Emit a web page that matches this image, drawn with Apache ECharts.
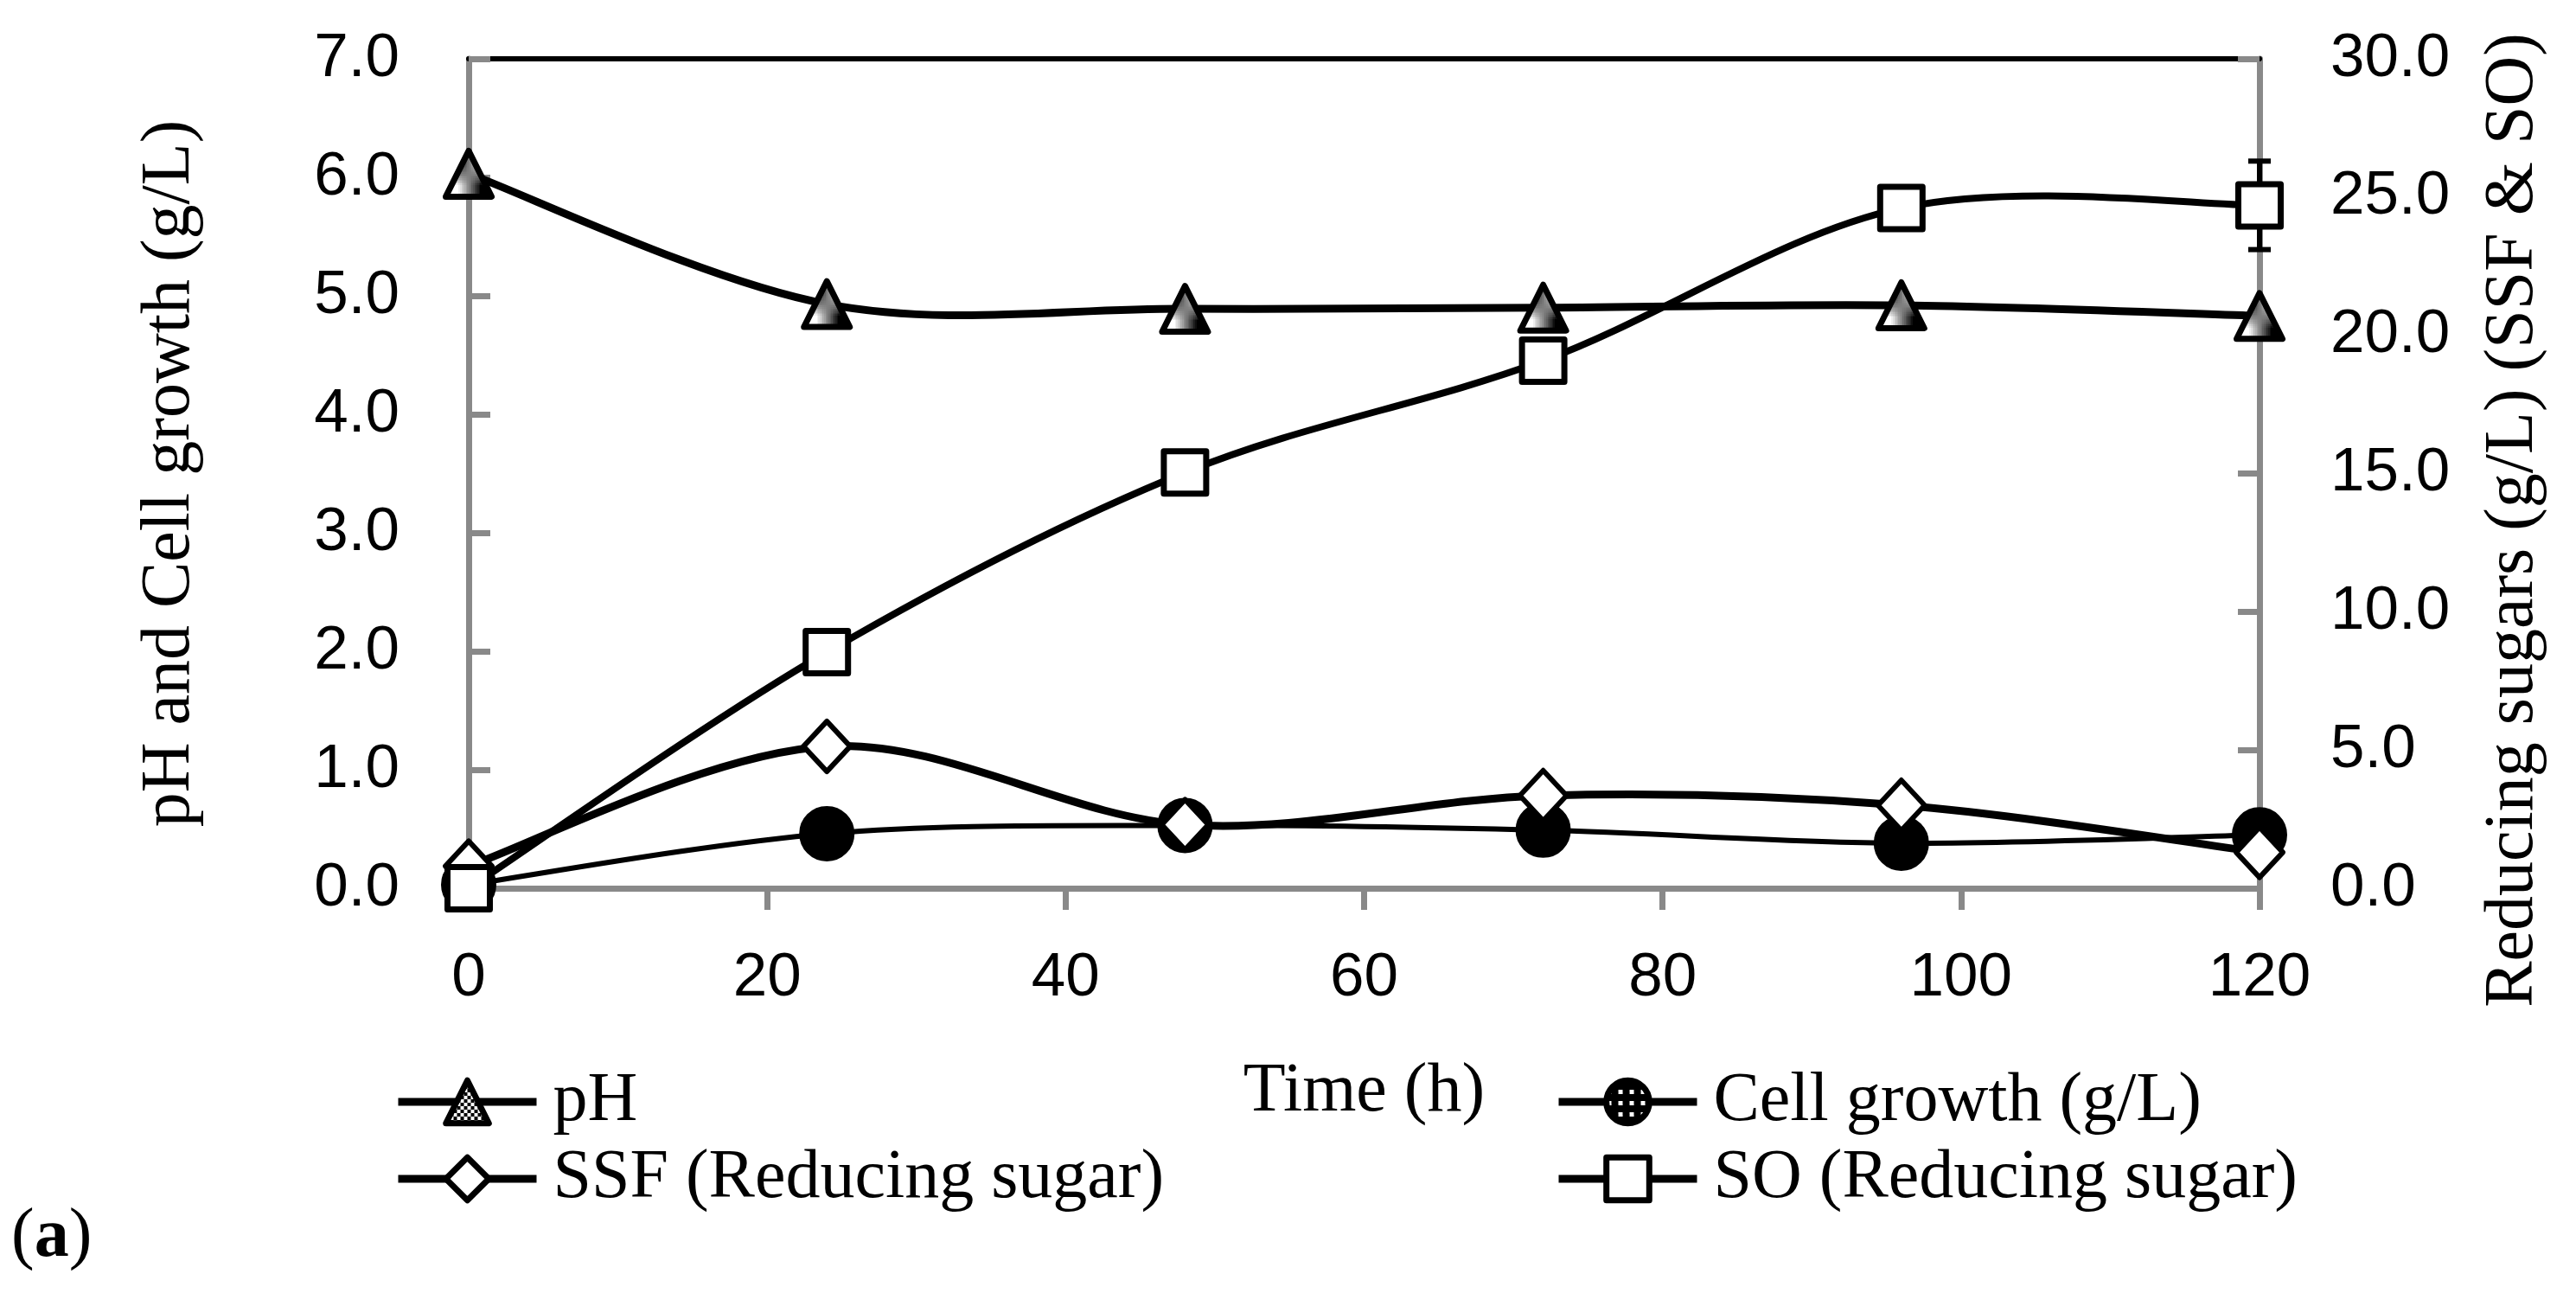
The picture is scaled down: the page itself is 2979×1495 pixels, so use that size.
<!DOCTYPE html>
<html>
<head>
<meta charset="utf-8">
<script src="https://cdn.jsdelivr.net/npm/echarts@6/dist/echarts.min.js"></script>
<style>
html,body{margin:0;padding:0;background:#fff;}
#chart{width:2979px;height:1495px;}
</style>
</head>
<body>
<div id="chart"></div>
<script>
// ---- data ----
const time = [0, 24, 48, 72, 96, 120];
const pH = [6.03, 4.93, 4.89, 4.90, 4.92, 4.83];
const cellGrowth = [0.03, 0.46, 0.53, 0.49, 0.38, 0.45];
const ssfSugar = [0.8, 5.13, 2.3, 3.35, 3.0, 1.3];
const soSugar = [0.0, 8.54, 15.04, 19.08, 24.6, 24.7];
const soError = [0, 0, 0, 0, 0, 1.6];
const xRange = [0, 120, 20];
const leftRange = [0, 7, 1];
const rightRange = [0, 30, 5];
const seriesNames = ['pH', 'Cell growth (g/L)', 'SSF (Reducing sugar)', 'SO (Reducing sugar)'];

// ---- pattern fills ----
function checker() {
  const c = document.createElement('canvas'); c.width = 8; c.height = 8;
  const g = c.getContext('2d');
  g.fillStyle = '#fff'; g.fillRect(0, 0, 8, 8);
  g.fillStyle = '#000'; g.fillRect(0, 0, 4, 4); g.fillRect(4, 4, 4, 4);
  return c;
}
function dots() {
  const c = document.createElement('canvas'); c.width = 13; c.height = 13;
  const g = c.getContext('2d');
  g.fillStyle = '#000'; g.fillRect(0, 0, 13, 13);
  g.fillStyle = '#fff'; g.fillRect(4, 4, 5, 5);
  return c;
}
const checkerFill = { image: checker(), repeat: 'repeat' };
const dotFill = { image: dots(), repeat: 'repeat' };

const pairs = (ys) => time.map((t, i) => [t, ys[i]]);
const errData = time.map((t, i) => [t, soSugar[i] - soError[i], soSugar[i] + soError[i]]).filter((d, i) => soError[i] > 0);

const sansFont = 'Liberation Sans';
const serifFont = 'Liberation Serif';
const gray = '#898989';

// Excel-style smoothed curve (Catmull-Rom through the points), drawn with the chart's own scales
function curveSeries(vals, yAxisIndex, width) {
  return {
    type: 'custom', yAxisIndex: yAxisIndex, z: 1, silent: true,
    data: pairs(vals),
    renderItem: function (params, api) {
      const n = time.length;
      const i = params.dataIndex;
      if (i >= n - 1) return null;
      const P = (j) => {
        const k = Math.max(0, Math.min(n - 1, j));
        return api.coord([time[k], vals[k]]);
      };
      const p0 = P(i - 1), p1 = P(i), p2 = P(i + 1), p3 = P(i + 2);
      return {
        type: 'bezierCurve',
        shape: {
          x1: p1[0], y1: p1[1], x2: p2[0], y2: p2[1],
          cpx1: p1[0] + (p2[0] - p0[0]) / 6, cpy1: p1[1] + (p2[1] - p0[1]) / 6,
          cpx2: p2[0] - (p3[0] - p1[0]) / 6, cpy2: p2[1] - (p3[1] - p1[1]) / 6
        },
        style: { stroke: '#000', lineWidth: width, fill: 'none', lineCap: 'round' }
      };
    }
  };
}

function markerSeries(name, vals, yAxisIndex, symbol, size, itemStyle) {
  return {
    type: 'line', name: name, yAxisIndex: yAxisIndex, z: 3,
    data: pairs(vals),
    symbol: symbol, symbolSize: size, showAllSymbol: true,
    lineStyle: { color: '#000', width: 9, opacity: 0 },
    itemStyle: itemStyle
  };
}

const legendCommon = {
  orient: 'vertical', top: 1234, padding: 0,
  itemWidth: 160, itemHeight: 62, itemGap: 9,
  itemStyle: { borderWidth: 7, borderColor: '#000' },
  lineStyle: { width: 9, color: '#000', opacity: 1 },
  textStyle: { fontFamily: serifFont, fontSize: 80, color: '#000', lineHeight: 62, padding: [0, 0, 0, 14] }
};

const chart = echarts.init(document.getElementById('chart'), null, { renderer: 'canvas' });
chart.setOption({
  animation: false,
  backgroundColor: '#fff',
  title: {
    text: '{p|(}{b|a}{p|)}',
    left: 8, top: 1386,
    textStyle: {
      fontWeight: 'normal',
      rich: {
        p: { fontFamily: serifFont, fontSize: 80, fontWeight: 'normal', color: '#000' },
        b: { fontFamily: serifFont, fontSize: 80, fontWeight: 'bold', color: '#000' }
      }
    }
  },
  grid: { left: 542, right: 366, top: 68, bottom: 468, containLabel: false },
  legend: [
    Object.assign({}, legendCommon, { data: [seriesNames[0], seriesNames[2]], left: 456 }),
    Object.assign({}, legendCommon, { data: [seriesNames[1], seriesNames[3]], left: 1798 })
  ],
  xAxis: [
    {
      type: 'value', min: xRange[0], max: xRange[1], interval: xRange[2],
      name: 'Time (h)', nameLocation: 'middle', nameGap: 196,
      nameTextStyle: { fontFamily: serifFont, fontSize: 80, color: '#000' },
      axisLine: { show: true, onZero: false, lineStyle: { color: gray, width: 7 } },
      axisTick: { show: true, inside: false, length: 25, lineStyle: { color: gray, width: 7 } },
      axisLabel: { fontFamily: sansFont, fontSize: 71, color: '#000', margin: 69 },
      splitLine: { show: false }
    },
    {
      type: 'value', min: xRange[0], max: xRange[1], position: 'top',
      axisLine: { show: true, onZero: false, lineStyle: { color: '#000', width: 6 } },
      axisTick: { show: false }, axisLabel: { show: false }, splitLine: { show: false }
    }
  ],
  yAxis: [
    {
      type: 'value', min: leftRange[0], max: leftRange[1], interval: leftRange[2], position: 'left',
      name: 'pH and Cell growth (g/L)', nameLocation: 'middle', nameRotate: 90, nameGap: 305,
      nameTextStyle: { fontFamily: serifFont, fontSize: 80, color: '#000' },
      axisLine: { show: true, onZero: false, lineStyle: { color: gray, width: 7 } },
      axisTick: { show: true, inside: true, length: 25, lineStyle: { color: gray, width: 7 } },
      axisLabel: { fontFamily: sansFont, fontSize: 71, color: '#000', margin: 80, formatter: v => v.toFixed(1) },
      splitLine: { show: false }
    },
    {
      type: 'value', min: rightRange[0], max: rightRange[1], interval: rightRange[2], position: 'right',
      name: 'Reducing sugars (g/L) (SSF & SO)', nameLocation: 'middle', nameRotate: 90, nameGap: 254,
      nameTextStyle: { fontFamily: serifFont, fontSize: 80, color: '#000', padding: [0, 108, 0, 0] },
      axisLine: { show: true, onZero: false, lineStyle: { color: gray, width: 7 } },
      axisTick: { show: true, inside: true, length: 25, lineStyle: { color: gray, width: 7 } },
      axisLabel: { fontFamily: sansFont, fontSize: 71, color: '#000', margin: 82, formatter: v => v.toFixed(1) },
      splitLine: { show: false }
    }
  ],
  series: [
    {
      type: 'custom', yAxisIndex: 1, z: 2, silent: true,
      data: errData,
      renderItem: function (params, api) {
        const x = api.value(0);
        const lo = api.coord([x, api.value(1)]);
        const hi = api.coord([x, api.value(2)]);
        const cap = 13;
        const st = { stroke: '#000', lineWidth: 6 };
        return {
          type: 'group',
          children: [
            { type: 'line', shape: { x1: lo[0], y1: lo[1], x2: hi[0], y2: hi[1] }, style: st },
            { type: 'line', shape: { x1: lo[0] - cap, y1: lo[1], x2: lo[0] + cap, y2: lo[1] }, style: st },
            { type: 'line', shape: { x1: hi[0] - cap, y1: hi[1], x2: hi[0] + cap, y2: hi[1] }, style: st }
          ]
        };
      }
    },
    curveSeries(pH, 0, 9),
    curveSeries(cellGrowth, 0, 6),
    curveSeries(ssfSugar, 1, 9),
    curveSeries(soSugar, 1, 8),
    markerSeries(seriesNames[0], pH, 0, 'triangle', 53,
      { color: checkerFill, borderColor: '#000', borderWidth: 7, borderJoin: 'round' }),
    markerSeries(seriesNames[1], cellGrowth, 0, 'circle', 60,
      { color: dotFill, borderColor: '#000', borderWidth: 4 }),
    markerSeries(seriesNames[2], ssfSugar, 1, 'diamond', [54, 58],
      { color: '#fff', borderColor: '#000', borderWidth: 6, borderJoin: 'round' }),
    markerSeries(seriesNames[3], soSugar, 1, 'rect', 49,
      { color: '#fff', borderColor: '#000', borderWidth: 7, borderJoin: 'round' })
  ]
});
</script>
</body>
</html>
